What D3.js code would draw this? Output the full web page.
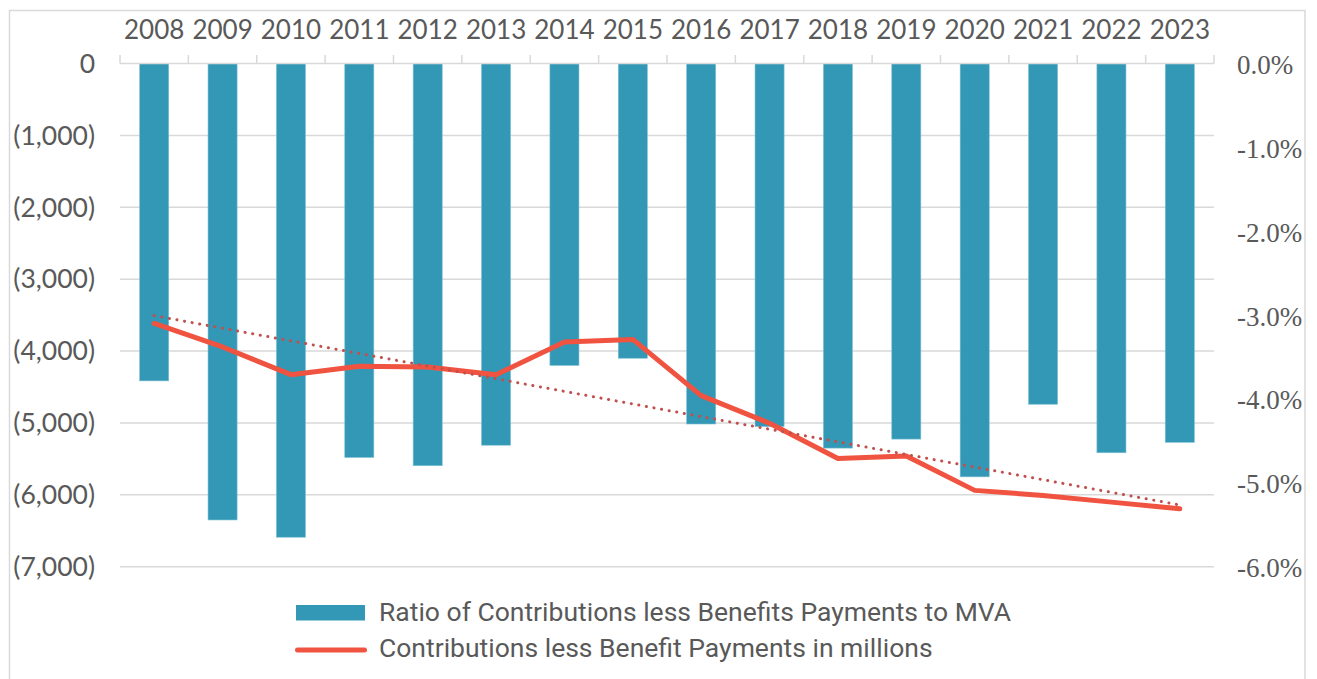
<!DOCTYPE html>
<html>
<head>
<meta charset="utf-8">
<script src="https://cdn.jsdelivr.net/npm/d3@7"></script>
<style>
  html, body { margin: 0; padding: 0; background: #fff; }
  svg { display: block; }
</style>
</head>
<body>
<svg id="chart"></svg>
<script>
// categories and series
const years = ['2008','2009','2010','2011','2012','2013','2014','2015','2016','2017','2018','2019','2020','2021','2022','2023'];
// bars, left axis (millions)
const barValues = [-4415, -6350, -6590, -5480, -5595, -5310, -4200, -4100, -5015, -5050, -5350, -5225, -5750, -4740, -5415, -5270];
// line, right axis (percent)
const lineValues = [-3.10, -3.38, -3.71, -3.61, -3.62, -3.71, -3.32, -3.29, -3.96, -4.29, -4.71, -4.68, -5.09, -5.15, -5.23, -5.31];
const leftTicks = [0, -1000, -2000, -3000, -4000, -5000, -6000, -7000];
const rightTicks = [0, -1, -2, -3, -4, -5, -6];
const legendLabels = ['Ratio of Contributions less Benefits Payments to MVA', 'Contributions less Benefit Payments in millions'];

const W = 1317, H = 679;
const margin = { top: 63.5, left: 120, right: 1317 - 1214, bottom: 679 - 566.7 };

const svg = d3.select('#chart').attr('width', W).attr('height', H);

// outer frame
svg.append('rect')
  .attr('x', 9.5).attr('y', 10.5)
  .attr('width', 1305 - 9.5).attr('height', 700)
  .attr('fill', 'none').attr('stroke', '#d9d9d9').attr('stroke-width', 1.5);

const x = d3.scaleBand().domain(years).range([margin.left, W - margin.right]).paddingInner(0.575).paddingOuter(0.2875);
const yL = d3.scaleLinear().domain([0, -7000]).range([margin.top, H - margin.bottom]);
const yR = d3.scaleLinear().domain([0, -6]).range([margin.top, H - margin.bottom]);

const grey = '#595959';

// gridlines
svg.append('g')
  .selectAll('line').data(leftTicks.slice(1)).join('line')
  .attr('x1', margin.left).attr('x2', W - margin.right)
  .attr('y1', d => yL(d)).attr('y2', d => yL(d))
  .attr('stroke', '#d9d9d9').attr('stroke-width', 1.5);

// left axis labels
const fmtL = v => v === 0 ? '0' : '(' + d3.format(',')(Math.abs(v)) + ')';
svg.append('g')
  .selectAll('text').data(leftTicks).join('text')
  .attr('x', 95).attr('y', d => yL(d))
  .attr('dy', '0.35em').attr('text-anchor', 'end')
  .attr('font-family', 'Lato, sans-serif').attr('font-size', 26.5)
  .attr('fill', grey)
  .text(fmtL);

// right axis labels (plain hyphen, as in the reference)
svg.append('g')
  .selectAll('text').data(rightTicks).join('text')
  .attr('x', 1237).attr('y', d => yR(d) + 1)
  .attr('dy', '0.35em').attr('text-anchor', 'start')
  .attr('font-family', '"Liberation Serif", "Times New Roman", serif').attr('font-size', 27)
  .attr('fill', grey)
  .text(d => (d < 0 ? '-' : '') + Math.abs(d).toFixed(1) + '%');

// bars
svg.append('g')
  .selectAll('rect').data(barValues).join('rect')
  .attr('x', (d, i) => x(years[i]))
  .attr('y', yL(0))
  .attr('width', x.bandwidth())
  .attr('height', d => yL(d) - yL(0))
  .attr('fill', '#3398b6')
  .attr('stroke', '#7cc0d3').attr('stroke-width', 0.6);

// top category axis
const ax = svg.append('g').attr('transform', `translate(0,${yL(0)})`);
ax.append('line')
  .attr('x1', margin.left).attr('x2', W - margin.right)
  .attr('y1', 0).attr('y2', 0)
  .attr('stroke', '#d9d9d9').attr('stroke-width', 1.5);
ax.selectAll('.tk').data(d3.range(years.length + 1)).join('line')
  .attr('class', 'tk')
  .attr('x1', i => margin.left + i * x.step()).attr('x2', i => margin.left + i * x.step())
  .attr('y1', 0).attr('y2', -8.5)
  .attr('stroke', '#d9d9d9').attr('stroke-width', 1.5);
ax.selectAll('.yl').data(years).join('text')
  .attr('class', 'yl')
  .attr('x', d => x(d) + x.bandwidth() / 2)
  .attr('y', 38.5 - yL(0))
  .attr('text-anchor', 'middle')
  .attr('font-family', 'Lato, sans-serif').attr('font-size', 26)
  .attr('fill', grey)
  .text(d => d);

const cx = i => x(years[i]) + x.bandwidth() / 2;

// line
const line = d3.line().x((d, i) => cx(i)).y(d => yR(d));
svg.append('path')
  .datum(lineValues)
  .attr('d', line)
  .attr('fill', 'none').attr('stroke', '#f05340').attr('stroke-width', 5)
  .attr('stroke-linejoin', 'round').attr('stroke-linecap', 'round');

// linear trendline of the line series
const n = lineValues.length;
const mx = d3.mean(d3.range(n)), my = d3.mean(lineValues);
const slope = d3.sum(d3.range(n), i => (i - mx) * (lineValues[i] - my)) / d3.sum(d3.range(n), i => (i - mx) ** 2);
const icpt = my - slope * mx;
svg.append('line')
  .attr('x1', cx(0)).attr('y1', yR(icpt))
  .attr('x2', cx(n - 1)).attr('y2', yR(icpt + slope * (n - 1)))
  .attr('stroke', '#c0504d').attr('stroke-width', 3)
  .attr('stroke-dasharray', '0.1 7.6').attr('stroke-linecap', 'round');

// legend
const lg = svg.append('g');
lg.append('rect').attr('x', 296).attr('y', 605).attr('width', 69).attr('height', 15.5).attr('fill', '#3398b6');
lg.append('line').attr('x1', 297.5).attr('x2', 364.5).attr('y1', 650).attr('y2', 650)
  .attr('stroke', '#f05340').attr('stroke-width', 5).attr('stroke-linecap', 'round');
lg.selectAll('text').data(legendLabels).join('text')
  .attr('x', 379).attr('y', (d, i) => 620.5 + i * 36.2)
  .attr('font-family', 'Roboto, sans-serif').attr('font-size', 26.5)
  .attr('fill', grey)
  .text(d => d);
</script>
</body>
</html>
